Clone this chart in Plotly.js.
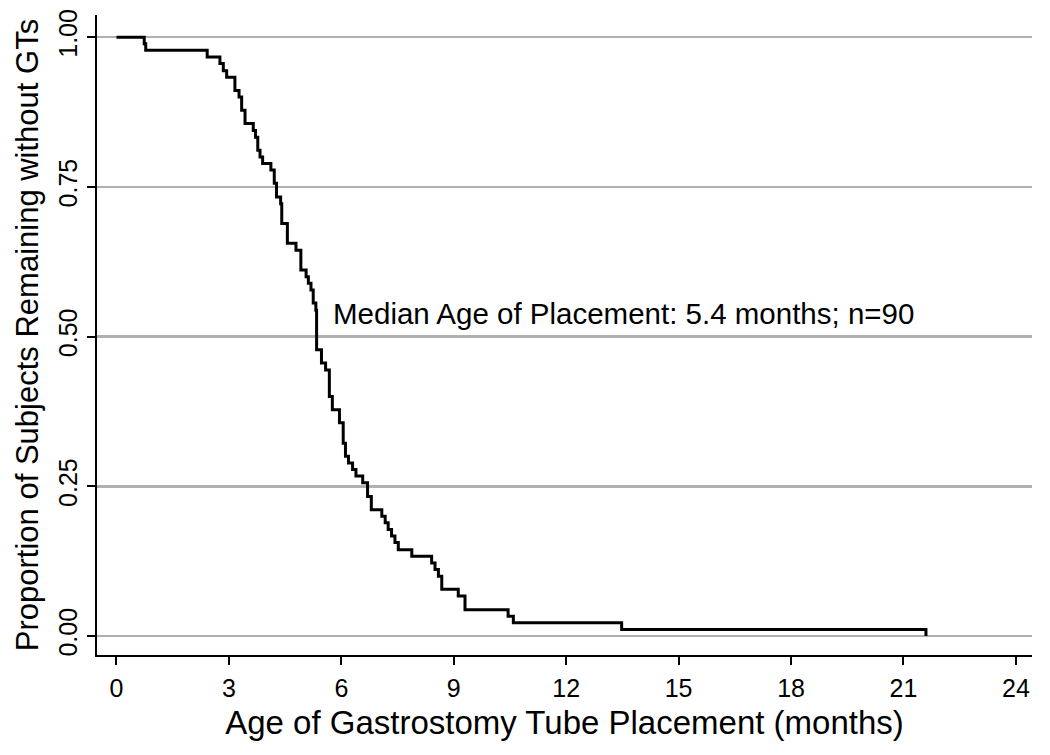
<!DOCTYPE html>
<html>
<head>
<meta charset="utf-8">
<script src="https://cdn.plot.ly/plotly-3.0.1.min.js"></script>
<style>
  html, body { margin: 0; padding: 0; background: #ffffff; }
  #chart { width: 1050px; height: 755px; }
</style>
</head>
<body>
<div id="chart"></div>
<script>
// Event times (months) and Kaplan-Meier proportion remaining after each step
const months = [0, 0.74, 0.78, 2.42, 2.76, 2.85, 2.94, 3.16, 3.27, 3.34,
  3.43, 3.65, 3.71, 3.77, 3.83, 3.90, 4.12, 4.21, 4.27, 4.38,
  4.41, 4.56, 4.79, 4.92, 5.06, 5.12, 5.19, 5.25, 5.32, 5.34,
  5.47, 5.58, 5.68, 5.76, 5.95, 6.05, 6.11, 6.19, 6.30, 6.39,
  6.57, 6.70, 6.80, 7.08, 7.17, 7.25, 7.34, 7.43, 7.52, 7.88,
  8.41, 8.50, 8.59, 8.68, 9.12, 9.30, 10.45, 10.59, 13.48, 21.6];
const proportion = [1.000, 0.989, 0.978, 0.967, 0.956, 0.944, 0.933, 0.911, 0.900, 0.878,
  0.856, 0.844, 0.833, 0.811, 0.800, 0.789, 0.778, 0.756, 0.733, 0.722,
  0.689, 0.656, 0.644, 0.611, 0.600, 0.589, 0.578, 0.556, 0.544, 0.478,
  0.456, 0.444, 0.400, 0.378, 0.356, 0.322, 0.300, 0.289, 0.278, 0.267,
  0.256, 0.233, 0.211, 0.200, 0.189, 0.178, 0.167, 0.156, 0.144, 0.133,
  0.122, 0.111, 0.100, 0.078, 0.067, 0.044, 0.033, 0.022, 0.011, 0.000];

const xTicks = [0, 3, 6, 9, 12, 15, 18, 21, 24];
const yTicks = [0, 0.25, 0.5, 0.75, 1];
const yTickLabels = ['0.00', '0.25', '0.50', '0.75', '1.00'];

const xTitle = 'Age of Gastrostomy Tube Placement (months)';
const yTitle = 'Proportion of Subjects Remaining without GTs';
const noteText = 'Median Age of Placement: 5.4 months; n=90';

const FONT = 'Liberation Sans, Arial, Helvetica, sans-serif';

const trace = {
  x: months,
  y: proportion,
  type: 'scatter',
  mode: 'lines',
  line: { shape: 'hv', color: '#000000', width: 3 },
  hoverinfo: 'x+y',
  showlegend: false
};

const layout = {
  width: 1050,
  height: 755,
  paper_bgcolor: '#ffffff',
  plot_bgcolor: '#ffffff',
  margin: { l: 97, r: 18, t: 15, b: 100, pad: 0 },
  font: { family: FONT, color: '#000000' },
  xaxis: {
    range: [-0.52, 24.43],
    tickmode: 'array',
    tickvals: xTicks,
    ticktext: xTicks.map(String),
    ticks: 'outside',
    ticklen: 8,
    tickwidth: 2,
    tickcolor: '#000000',
    showline: true,
    linewidth: 2,
    linecolor: '#000000',
    showgrid: false,
    zeroline: false,
    ticklabelstandoff: 2,
    tickfont: { family: FONT, size: 25, color: '#000000' },
    title: { text: xTitle, font: { family: FONT, size: 33, color: '#000000' }, standoff: 10 }
  },
  yaxis: {
    range: [-0.0317, 1.037],
    tickmode: 'array',
    tickvals: yTicks,
    ticktext: yTickLabels,
    tickangle: -90,
    ticks: 'outside',
    ticklen: 8,
    tickwidth: 2,
    tickcolor: '#000000',
    showline: true,
    linewidth: 2,
    linecolor: '#000000',
    showgrid: true,
    gridcolor: '#b0b0b0',
    gridwidth: 2.5,
    zeroline: false,
    tickfont: { family: FONT, size: 25, color: '#000000' },
    title: { text: yTitle, font: { family: FONT, size: 31, color: '#000000' }, standoff: 6 }
  },
  annotations: [{
    x: 5.72,
    y: 0.539,
    xref: 'x',
    yref: 'y',
    text: noteText,
    showarrow: false,
    xanchor: 'left',
    yanchor: 'middle',
    font: { family: FONT, size: 29.5, color: '#000000' }
  }]
};

Plotly.newPlot('chart', [trace], layout, { displayModeBar: false, staticPlot: true });
</script>
</body>
</html>
